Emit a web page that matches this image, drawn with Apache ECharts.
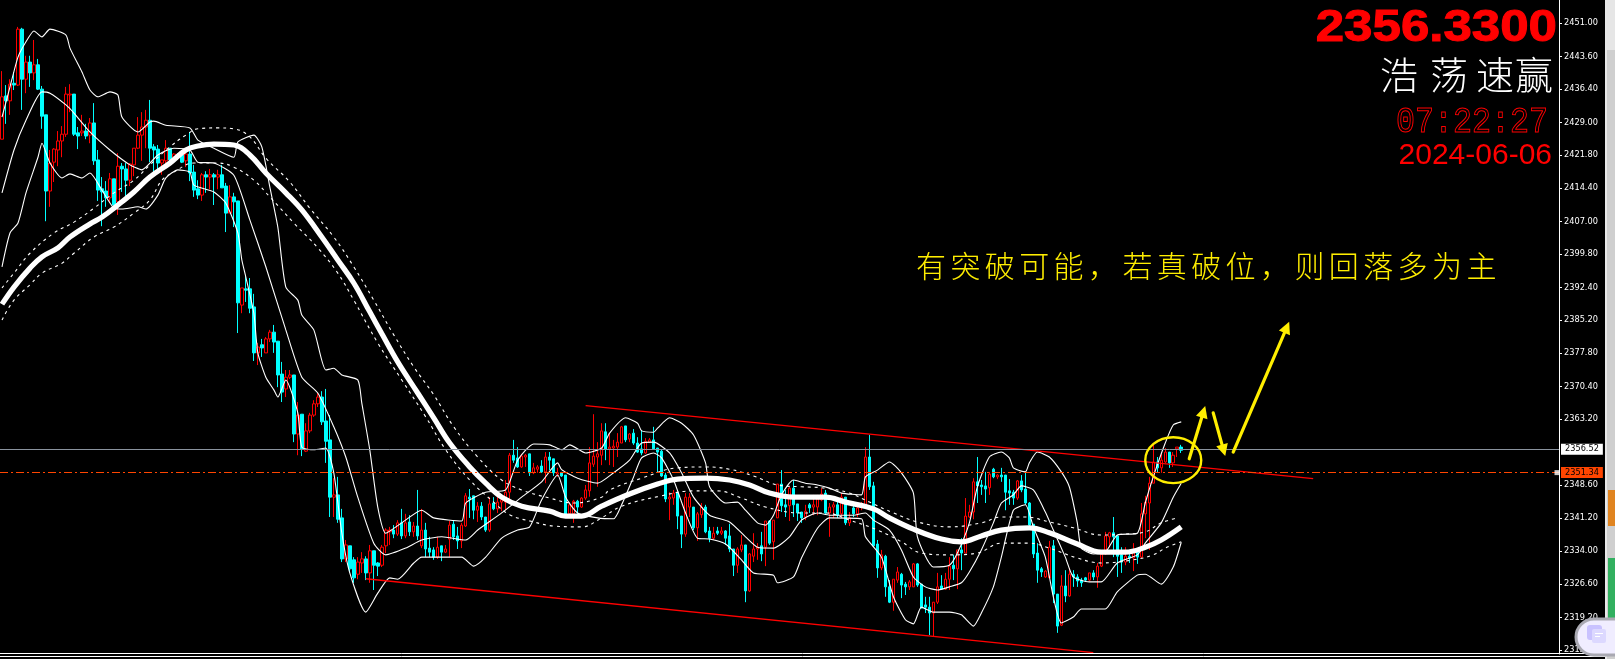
<!DOCTYPE html>
<html>
<head>
<meta charset="utf-8">
<title>2356.3300</title>
<script src="https://cdn.jsdelivr.net/npm/echarts@6/dist/echarts.min.js"></script>
<style>
html,body{margin:0;padding:0;background:#000;overflow:hidden;}
#chart_div{width:1615px;height:659px;}
</style>
</head>
<body>
<div id="chart_div"></div>
<script>
// open, close, low, high
var candles = [
[2425.3,2434.7,2425.3,2440.4],[2434.9,2433.8,2428.7,2437.3],[2433.8,2437.5,2430.7,2438.6],[2437.7,2437.3,2436.2,2440.2],
[2437.3,2449.7,2437.1,2450.2],[2449.7,2438.6,2431.8,2450.0],[2438.6,2442.4,2435.5,2443.8],[2442.4,2440.0,2436.9,2443.8],
[2440.0,2441.8,2438.4,2447.3],[2441.8,2436.4,2436.2,2443.1],[2436.4,2430.4,2427.6,2437.1],[2430.7,2413.8,2407.1,2430.7],
[2413.8,2420.0,2410.3,2422.9],[2420.2,2423.1,2415.8,2423.3],[2422.9,2424.9,2419.3,2427.1],[2424.9,2426.4,2421.3,2428.2],
[2426.4,2435.3,2425.8,2436.9],[2435.1,2435.3,2431.3,2437.5],[2435.3,2426.4,2426.0,2435.3],[2426.7,2426.0,2423.1,2428.0],
[2426.7,2427.1,2426.0,2430.7],[2427.1,2426.0,2425.3,2428.7],[2426.2,2428.9,2424.4,2430.0],[2428.9,2420.5,2419.6,2433.3],
[2420.7,2414.0,2411.6,2422.9],[2414.3,2413.6,2406.0,2416.9],[2413.8,2412.3,2410.3,2416.0],[2412.3,2416.5,2411.4,2417.8],
[2416.5,2410.7,2409.6,2416.5],[2411.4,2419.3,2408.5,2422.2],[2419.3,2418.7,2413.6,2420.0],[2418.7,2416.2,2412.5,2420.0],
[2416.2,2419.8,2414.9,2420.0],[2419.6,2423.3,2417.1,2423.3],[2423.3,2426.2,2423.1,2430.2],[2426.2,2428.0,2420.5,2431.3],
[2428.0,2429.5,2423.3,2431.8],[2429.5,2423.3,2420.2,2434.0],[2423.6,2422.9,2418.0,2424.2],[2423.1,2420.0,2418.0,2424.0],
[2420.0,2420.7,2417.4,2420.7],[2420.5,2423.3,2420.0,2425.1],[2423.3,2420.7,2420.0,2423.3],[2421.3,2422.0,2420.0,2422.2],
[2421.8,2421.6,2420.7,2422.2],[2421.8,2420.2,2420.0,2422.5],[2420.5,2422.0,2419.1,2422.5],[2422.0,2417.8,2416.0,2426.9],
[2418.0,2414.0,2412.5,2419.6],[2414.3,2412.9,2412.0,2416.2],[2412.9,2417.4,2411.6,2417.8],[2417.4,2416.9,2413.4,2418.2],
[2416.9,2417.4,2414.2,2418.7],[2417.4,2416.9,2410.7,2417.8],[2416.9,2417.4,2414.2,2418.5],[2417.4,2414.5,2414.5,2419.6],
[2414.9,2408.9,2404.7,2415.6],[2408.9,2412.5,2408.9,2415.1],[2412.5,2411.4,2405.8,2413.4],[2411.6,2389.0,2382.3,2411.6],
[2388.5,2392.3,2386.7,2392.3],[2392.1,2391.8,2389.2,2395.2],[2392.1,2387.8,2386.7,2394.5],[2388.1,2377.9,2376.1,2391.0],
[2377.9,2379.2,2375.2,2380.1],[2379.7,2379.0,2377.0,2381.0],[2377.9,2381.0,2377.9,2381.4],[2381.0,2382.5,2380.3,2383.0],
[2382.5,2380.3,2377.9,2384.1],[2380.5,2373.0,2370.3,2380.5],[2373.2,2369.2,2367.0,2375.9],[2369.9,2372.5,2368.1,2374.1],
[2372.5,2373.0,2372.1,2374.1],[2373.0,2359.9,2358.1,2373.0],[2359.9,2364.1,2355.2,2367.0],[2364.3,2356.6,2355.0,2364.3],
[2356.1,2360.6,2355.9,2362.3],[2360.6,2364.1,2360.1,2364.6],[2364.1,2366.6,2363.7,2367.4],[2366.6,2368.1,2365.9,2369.0],
[2368.1,2362.6,2361.9,2369.4],[2362.8,2358.3,2353.5,2369.9],[2358.6,2345.9,2341.5,2364.1],[2345.9,2346.4,2341.5,2350.1],
[2346.4,2341.0,2340.2,2350.4],[2341.3,2332.2,2331.5,2343.3],[2332.2,2335.3,2331.5,2336.4],[2335.1,2330.0,2329.3,2335.1],
[2332.0,2328.0,2326.9,2332.6],[2328.8,2331.5,2327.7,2332.6],[2331.3,2332.2,2329.1,2333.7],[2332.2,2329.1,2327.5,2332.8],
[2329.1,2334.0,2326.9,2335.3],[2334.0,2330.8,2325.3,2334.0],[2331.3,2330.6,2328.4,2331.5],[2330.8,2334.8,2330.4,2335.3],
[2335.1,2338.6,2333.5,2339.0],[2338.2,2338.6,2335.3,2339.3],[2338.6,2337.7,2336.8,2339.7],[2337.7,2340.2,2337.3,2340.8],
[2340.2,2337.3,2336.6,2343.3],[2337.3,2340.2,2336.8,2342.2],[2340.4,2338.2,2337.3,2341.9],[2338.2,2339.5,2337.1,2340.4],
[2339.5,2337.3,2336.4,2347.5],[2335.1,2338.6,2334.6,2343.3],[2338.6,2334.4,2332.6,2340.2],[2334.6,2333.7,2332.6,2337.1],
[2334.2,2332.6,2332.0,2334.8],[2332.6,2334.8,2332.2,2337.1],[2335.1,2333.7,2331.7,2335.1],[2333.7,2334.4,2333.5,2335.3],
[2336.6,2339.7,2332.6,2340.6],[2339.9,2337.1,2336.4,2340.6],[2337.3,2336.2,2334.4,2339.3],[2336.2,2339.7,2334.6,2340.2],
[2339.5,2346.2,2339.3,2346.8],[2345.9,2345.5,2341.3,2347.7],[2346.2,2343.0,2341.0,2346.2],[2343.0,2343.9,2340.4,2344.8],
[2343.9,2341.5,2340.8,2344.8],[2341.5,2338.6,2338.2,2341.5],[2338.6,2344.4,2338.2,2345.9],[2344.6,2343.3,2343.0,2345.9],
[2343.3,2344.8,2342.4,2345.9],[2344.8,2345.3,2342.8,2345.7],[2344.8,2347.0,2343.0,2349.7],[2347.0,2355.2,2345.3,2355.7],
[2355.2,2354.1,2353.5,2358.6],[2354.6,2352.6,2352.4,2357.0],[2352.6,2355.0,2352.4,2355.5],[2354.8,2355.2,2352.6,2355.5],
[2355.5,2351.3,2350.6,2355.5],[2351.3,2352.4,2351.0,2353.5],[2352.1,2352.6,2351.3,2353.0],[2352.8,2351.5,2351.3,2354.1],
[2351.5,2354.8,2349.0,2355.9],[2354.8,2354.1,2351.9,2355.9],[2354.4,2351.3,2350.6,2354.4],[2351.0,2351.3,2350.4,2352.4],
[2351.3,2350.6,2350.4,2351.5],[2350.8,2341.9,2341.5,2350.8],[2342.2,2344.2,2341.5,2344.8],[2342.2,2345.0,2340.2,2345.3],
[2345.0,2343.7,2342.2,2345.3],[2343.7,2345.7,2343.5,2345.9],[2345.7,2347.5,2345.3,2348.6],[2347.3,2353.5,2346.0,2357.0],
[2353.2,2355.0,2352.6,2364.3],[2354.8,2355.5,2348.2,2358.1],[2355.2,2360.6,2353.0,2362.3],[2360.4,2356.6,2354.1,2362.3],
[2356.6,2357.0,2353.0,2360.1],[2356.8,2357.2,2352.6,2358.6],[2357.0,2358.1,2354.8,2360.1],[2357.9,2361.5,2357.9,2361.7],
[2361.7,2358.6,2358.1,2361.7],[2358.8,2359.9,2358.1,2360.1],[2360.1,2357.9,2357.5,2361.0],[2357.9,2355.9,2355.7,2359.2],
[2356.6,2355.7,2355.2,2360.8],[2355.7,2358.3,2355.5,2359.0],[2358.1,2358.6,2357.9,2359.0],[2358.6,2356.6,2356.4,2361.5],
[2356.8,2355.9,2351.3,2356.8],[2356.1,2350.6,2350.4,2356.4],[2350.8,2345.5,2344.8,2351.3],[2345.5,2345.9,2340.8,2347.0],
[2345.7,2346.8,2344.2,2347.5],[2346.8,2341.7,2338.8,2346.8],[2341.7,2337.7,2334.6,2341.7],[2337.7,2345.9,2337.1,2346.8],
[2343.7,2345.9,2341.5,2346.8],[2343.7,2339.1,2338.6,2343.7],[2339.1,2342.2,2336.2,2342.6],[2342.0,2343.7,2341.3,2344.6],
[2343.7,2338.2,2337.9,2344.2],[2338.4,2336.8,2335.9,2339.3],[2336.8,2337.9,2336.4,2339.3],[2338.4,2337.9,2337.5,2339.3],
[2337.9,2338.4,2337.5,2339.3],[2338.4,2336.8,2335.3,2338.6],[2337.3,2334.4,2333.7,2340.0],[2334.4,2330.8,2328.4,2334.4],
[2330.8,2334.4,2329.1,2334.8],[2334.2,2335.3,2333.7,2337.5],[2335.3,2325.1,2322.6,2335.3],[2325.1,2333.3,2324.9,2333.5],
[2332.8,2334.4,2331.5,2337.9],[2334.4,2334.8,2332.0,2335.7],[2335.1,2333.3,2331.7,2338.2],[2334.8,2340.6,2330.6,2340.6],
[2340.6,2335.7,2335.3,2340.8],[2336.0,2340.8,2332.0,2340.8],[2341.3,2348.8,2341.3,2348.8],[2348.8,2344.0,2342.6,2351.9],
[2344.2,2343.7,2341.5,2347.5],[2344.0,2347.9,2340.6,2348.2],[2347.9,2344.2,2341.5,2349.7],[2344.4,2342.4,2340.6,2344.4],
[2342.6,2341.3,2340.2,2342.6],[2341.5,2342.8,2340.8,2344.2],[2344.2,2343.5,2342.4,2344.6],[2343.7,2344.2,2341.9,2346.4],
[2343.7,2345.5,2341.9,2346.4],[2345.3,2346.6,2345.0,2347.9],[2346.8,2342.4,2342.2,2347.5],[2342.4,2343.7,2337.1,2344.6],
[2343.7,2344.2,2341.3,2344.8],[2344.2,2341.9,2341.3,2345.3],[2342.2,2345.9,2341.3,2346.8],[2345.9,2340.2,2339.7,2345.9],
[2340.2,2341.3,2339.5,2342.6],[2343.5,2342.2,2341.5,2344.6],[2342.2,2343.5,2341.5,2344.6],[2343.7,2344.2,2343.0,2344.8],
[2343.7,2354.8,2343.5,2357.0],[2354.8,2348.2,2347.5,2359.7],[2348.4,2335.1,2334.8,2349.3],[2335.5,2330.2,2328.0,2336.4],
[2330.2,2333.1,2329.7,2334.2],[2332.8,2326.0,2323.8,2333.1],[2326.0,2322.6,2322.4,2327.5],[2322.6,2327.7,2320.7,2327.7],
[2327.5,2329.3,2326.9,2330.4],[2328.8,2326.4,2323.5,2329.1],[2326.6,2326.0,2324.2,2327.1],[2326.0,2327.1,2325.3,2327.5],
[2326.0,2331.1,2326.0,2331.3],[2331.1,2326.4,2326.0,2331.3],[2326.6,2321.3,2321.3,2326.6],[2322.0,2321.5,2320.2,2323.8],
[2321.5,2320.2,2315.3,2323.8],[2320.2,2322.6,2314.9,2322.6],[2322.6,2326.0,2322.2,2329.1],[2326.2,2325.5,2325.3,2328.6],
[2325.5,2327.7,2325.3,2329.1],[2327.7,2330.6,2325.3,2332.6],[2330.8,2330.0,2327.5,2333.1],[2330.0,2334.2,2325.5,2334.2],
[2334.2,2333.5,2329.7,2336.8],[2333.5,2341.7,2333.5,2345.7],[2341.5,2342.6,2341.3,2344.2],[2342.6,2349.3,2341.0,2350.1],
[2349.3,2348.4,2344.6,2354.8],[2348.6,2348.2,2346.4,2349.7],[2348.4,2347.7,2344.6,2351.5],[2348.0,2351.0,2346.4,2351.5],
[2352.1,2350.4,2350.1,2352.4],[2350.4,2350.8,2349.9,2351.0],[2350.8,2350.4,2349.3,2352.4],[2350.8,2347.0,2343.0,2350.8],
[2347.3,2346.8,2344.2,2349.9],[2347.0,2345.7,2344.2,2347.5],[2345.7,2349.5,2345.3,2349.7],[2349.5,2347.5,2347.0,2350.8],
[2347.7,2344.6,2344.2,2351.3],[2344.6,2339.7,2339.5,2344.8],[2339.9,2333.3,2332.4,2339.9],[2333.5,2329.7,2326.9,2335.7],
[2330.0,2329.3,2328.2,2330.4],[2328.2,2329.5,2328.0,2329.7],[2328.0,2334.8,2328.0,2336.2],[2335.1,2324.4,2322.4,2336.4],
[2324.4,2317.3,2315.8,2324.4],[2317.5,2326.2,2317.3,2328.6],[2326.2,2324.0,2322.6,2329.7],[2324.0,2328.8,2323.8,2330.2],
[2328.8,2328.2,2326.0,2329.7],[2328.2,2327.3,2326.0,2328.8],[2327.5,2326.9,2326.0,2328.0],[2328.0,2327.5,2327.1,2328.2],
[2327.5,2329.1,2327.3,2329.1],[2329.1,2328.2,2327.5,2329.7],[2328.2,2330.6,2325.8,2331.3],[2330.6,2333.3,2330.4,2333.5],
[2333.3,2337.3,2333.1,2338.2],[2337.1,2338.0,2334.8,2338.2],[2338.0,2337.1,2332.6,2341.5],[2337.3,2332.8,2328.2,2337.5],
[2333.1,2331.5,2329.1,2334.8],[2331.5,2332.8,2330.8,2334.8],[2332.8,2332.4,2331.3,2334.2],[2332.4,2333.7,2329.5,2335.7],
[2333.7,2332.6,2331.1,2334.2],[2332.6,2342.2,2332.4,2344.6],[2342.2,2344.8,2336.8,2346.2],[2344.6,2349.0,2334.2,2350.4],
[2349.0,2353.7,2349.0,2357.5],[2353.7,2352.4,2351.3,2354.8],[2352.4,2354.1,2351.3,2355.9],[2353.7,2355.9,2353.5,2356.8],
[2355.9,2353.5,2352.4,2355.9],[2353.5,2355.2,2352.6,2355.9],[2356.6,2357.0,2354.8,2357.0],[2357.0,2356.3,2355.7,2357.5]
];

// [candle index, price]
var slowMa = [[0,2388.7],[3,2392.5],[7,2396.7],[10,2399.2],[14,2401.2],[17,2403.6],[22,2406.5],[25,2408.0],[29,2410.7],[33,2413.6],[37,2416.9],[42,2420.0],[46,2422.9],[49,2423.8],[53,2424.2],[58,2424.0],[62,2421.8],[66,2417.8],[71,2413.4],[75,2409.6],[80,2403.6],[84,2398.5],[88,2393.4],[92,2387.0],[95,2382.2],[99,2375.9],[104,2369.0],[108,2363.5],[112,2357.9],[117,2352.6],[121,2349.0],[125,2345.9],[130,2343.9],[137,2342.8],[141,2341.7],[145,2341.7],[150,2343.9],[157,2346.6],[164,2348.8],[169,2349.9],[176,2350.1],[182,2349.7],[187,2348.6],[192,2346.8],[198,2345.9],[206,2345.9],[211,2344.8],[218,2343.3],[222,2341.3],[228,2338.8],[235,2336.6],[240,2336.0],[245,2337.3],[250,2338.6],[257,2339.1],[262,2338.0],[269,2335.5],[275,2333.7],[281,2333.7],[286,2334.8],[290,2336.4],[295,2339.3]];
var slowUpper = [[0,2392.3],[3,2395.6],[7,2400.0],[13,2404.5],[18,2406.9],[23,2410.0],[28,2413.4],[33,2416.2],[37,2419.6],[42,2423.6],[46,2426.2],[49,2427.6],[54,2427.8],[58,2427.6],[62,2425.8],[66,2421.1],[72,2415.8],[77,2410.0],[83,2403.6],[88,2397.0],[93,2389.6],[98,2381.9],[103,2374.8],[108,2368.6],[113,2361.5],[119,2354.8],[125,2349.7],[130,2347.5],[137,2345.7],[143,2344.6],[150,2345.9],[152,2347.5],[160,2350.1],[169,2352.4],[176,2352.6],[182,2352.1],[188,2350.6],[194,2348.6],[200,2348.2],[206,2347.9],[212,2346.8],[217,2344.8],[223,2342.4],[229,2340.4],[237,2339.3],[245,2340.2],[250,2341.5],[256,2341.5],[262,2340.4],[268,2339.1],[275,2337.5],[281,2337.7],[286,2338.2],[290,2340.2],[294,2341.3]];
var slowLower = [[0,2385.2],[3,2389.6],[7,2393.0],[10,2395.6],[15,2397.8],[18,2400.0],[23,2403.6],[28,2405.8],[33,2408.9],[37,2411.8],[40,2416.2],[43,2418.0],[48,2420.0],[54,2420.0],[58,2419.1],[63,2416.2],[67,2412.5],[73,2406.7],[79,2401.2],[84,2395.6],[88,2389.6],[94,2380.1],[100,2371.9],[106,2363.7],[111,2356.4],[117,2349.7],[123,2344.8],[127,2342.0],[133,2340.4],[138,2339.5],[145,2339.3],[150,2341.3],[155,2343.9],[165,2346.2],[173,2347.3],[179,2347.3],[185,2345.7],[191,2343.7],[200,2342.4],[206,2342.4],[212,2340.8],[219,2338.6],[225,2336.0],[230,2333.5],[237,2333.1],[244,2333.5],[250,2335.7],[257,2335.7],[262,2334.6],[269,2332.4],[275,2331.3],[283,2332.0],[288,2333.1],[291,2334.6],[295,2336.0]];

var bandUpper = [[0,2430.2],[2,2436.9],[4,2443.5],[6,2446.9],[8,2449.3],[10,2448.0],[12,2449.7],[16,2448.4],[17,2445.5],[20,2440.2],[22,2436.2],[24,2434.7],[27,2435.8],[29,2435.1],[30,2430.2],[34,2426.9],[37,2429.1],[38,2429.3],[41,2428.4],[47,2427.8],[49,2425.1],[53,2423.3],[58,2421.3],[59,2424.7],[63,2426.2],[65,2423.6],[67,2414.7],[69,2405.8],[71,2392.5],[74,2389.6],[75,2386.3],[78,2383.0],[81,2374.1],[83,2374.5],[85,2373.0],[89,2371.9],[90,2366.8],[92,2356.4],[94,2343.7],[96,2337.9],[100,2340.2],[105,2343.0],[108,2341.3],[115,2340.6],[116,2344.6],[121,2347.0],[126,2347.5],[129,2354.1],[133,2357.7],[137,2357.5],[140,2356.4],[142,2357.5],[146,2355.7],[150,2356.8],[152,2360.1],[156,2363.5],[159,2362.3],[160,2360.6],[163,2360.3],[164,2361.2],[167,2363.5],[170,2362.3],[173,2359.7],[176,2353.5],[177,2348.2],[181,2344.6],[184,2344.8],[186,2343.0],[189,2340.2],[191,2339.7],[193,2341.9],[195,2346.4],[198,2349.7],[201,2349.0],[204,2348.6],[207,2347.9],[210,2346.8],[215,2346.4],[216,2350.4],[219,2351.9],[222,2353.7],[225,2351.3],[228,2346.8],[229,2337.1],[233,2330.4],[237,2330.8],[239,2333.5],[242,2340.2],[244,2348.2],[247,2354.8],[250,2355.9],[252,2354.6],[253,2352.4],[256,2351.5],[257,2353.5],[259,2355.9],[262,2354.8],[265,2351.5],[267,2348.2],[269,2340.2],[270,2334.6],[273,2333.3],[276,2333.7],[279,2337.5],[284,2337.9],[286,2344.6],[288,2350.4],[291,2357.9],[293,2361.9],[295,2362.6]];
var bandMiddle = [[0,2413.4],[3,2422.9],[6,2429.5],[10,2435.8],[12,2435.5],[16,2432.9],[18,2431.1],[22,2426.9],[27,2422.9],[32,2419.6],[35,2418.5],[39,2421.8],[43,2423.3],[47,2422.9],[49,2420.2],[53,2420.0],[58,2417.3],[62,2407.4],[66,2397.0],[71,2383.0],[75,2372.5],[79,2369.0],[83,2361.5],[86,2354.8],[89,2345.9],[93,2335.7],[96,2333.1],[101,2334.6],[105,2336.4],[110,2337.1],[116,2336.4],[119,2338.6],[125,2342.4],[130,2345.9],[135,2349.3],[139,2353.5],[140,2352.0],[144,2350.1],[149,2349.0],[153,2351.3],[157,2354.1],[160,2357.9],[163,2358.1],[167,2355.7],[170,2351.3],[173,2345.9],[177,2341.9],[182,2340.4],[186,2337.1],[189,2334.8],[193,2334.6],[197,2337.1],[200,2340.8],[204,2342.4],[207,2341.9],[213,2341.9],[216,2342.4],[218,2340.8],[222,2338.6],[225,2334.2],[228,2328.2],[231,2326.0],[234,2325.3],[237,2326.0],[240,2326.9],[242,2329.3],[245,2334.2],[248,2340.2],[250,2344.6],[253,2346.4],[255,2348.4],[258,2347.5],[261,2342.6],[263,2338.6],[266,2332.6],[268,2328.2],[272,2327.1],[275,2327.1],[279,2331.3],[284,2333.1],[286,2335.7],[290,2340.2],[293,2345.9],[295,2349.0]];
var bandLower = [[0,2397.0],[2,2404.5],[4,2406.7],[6,2413.4],[9,2421.3],[10,2424.4],[12,2420.0],[15,2416.7],[17,2417.6],[20,2416.7],[22,2417.8],[25,2414.0],[28,2410.0],[30,2409.8],[34,2410.3],[36,2409.8],[39,2412.9],[41,2416.7],[44,2418.5],[47,2418.0],[48,2415.1],[53,2413.6],[56,2411.1],[59,2404.5],[60,2398.5],[61,2394.7],[63,2386.7],[64,2377.9],[66,2372.5],[68,2369.7],[69,2368.1],[71,2371.9],[74,2364.6],[75,2357.0],[78,2356.4],[81,2356.8],[83,2351.3],[85,2338.0],[87,2329.1],[91,2320.4],[94,2324.6],[97,2328.0],[99,2327.7],[103,2331.3],[105,2332.6],[112,2332.6],[115,2332.6],[118,2330.6],[121,2332.6],[125,2336.8],[129,2338.6],[132,2339.3],[135,2345.3],[139,2350.8],[141,2345.9],[144,2342.4],[149,2341.3],[153,2341.1],[155,2344.2],[158,2350.4],[160,2354.6],[163,2355.7],[165,2354.6],[168,2349.7],[171,2342.4],[174,2336.8],[177,2336.6],[181,2335.5],[185,2332.0],[188,2329.1],[193,2328.6],[194,2326.9],[198,2328.2],[200,2332.4],[204,2339.0],[207,2341.3],[215,2341.1],[216,2337.1],[220,2332.6],[223,2323.8],[226,2318.7],[228,2317.8],[230,2321.5],[233,2320.4],[237,2320.4],[240,2319.8],[243,2317.3],[245,2320.2],[248,2326.0],[250,2332.6],[253,2343.0],[256,2344.2],[258,2339.3],[261,2332.6],[263,2323.8],[265,2318.0],[268,2319.3],[270,2321.1],[276,2321.1],[279,2324.9],[284,2328.6],[286,2328.8],[290,2326.6],[293,2330.4],[295,2335.9]];

var channelTop = [[146,2366.2],[328,2350.0]];
var channelBottom = [[91,2327.8],[273,2311.4]];

// tail index, tail price, tip index, tip price
var arrows = [[296.75,2354.4,300.5,2366.1],[302.5,2364.6,305.5,2355.0],[307.75,2355.9,322,2384.8]];
var circleIdx = [285.5,299.5];
var circlePrice = [2349.0,2359.2];

var priceTicks = [2451,2443.6,2436.4,2429,2421.8,2414.4,2407,2399.8,2392.4,2385.2,2377.8,2370.4,2363.2,2348.6,2341.2,2334,2326.6,2319.2,2312];
var bidPrice = 2356.52;
var linePrice = 2351.34;
var noteText = '有突破可能，若真破位，则回落多为主';
var lastPrice = '2356.3300';
var brandChars = ['浩','荡','速','赢'];
var clockText = '07:22:27';
var dateText = '2024-06-06';

var categories = [];
for (var n = 0; n < 390; n++) {
	categories.push(n);
}

function thinLine(data, width, dash, smooth) {
	return {
		type: 'line',
		data: data,
		symbol: 'none',
		smooth: smooth,
		silent: true,
		z: 3,
		lineStyle: {color: '#fff', width: width, type: dash}
	};
}

function channelLine(data) {
	return {
		type: 'line',
		data: data,
		symbol: 'none',
		silent: true,
		z: 4,
		lineStyle: {color: '#f00', width: 1.3}
	};
}

function renderNotes(params, api) {
	var yellow = '#ffee00';
	var children = [];
	var p0 = api.coord([circleIdx[0], circlePrice[1]]);
	var p1 = api.coord([circleIdx[1], circlePrice[0]]);
	children.push({
		type: 'ellipse',
		shape: {cx: (p0[0] + p1[0]) / 2, cy: (p0[1] + p1[1]) / 2, rx: (p1[0] - p0[0]) / 2, ry: (p1[1] - p0[1]) / 2},
		style: {fill: 'none', stroke: yellow, lineWidth: 2.4}
	});
	for (var i = 0; i < arrows.length; i++) {
		var a = api.coord([arrows[i][0], arrows[i][1]]);
		var b = api.coord([arrows[i][2], arrows[i][3]]);
		var len = Math.sqrt((b[0] - a[0]) * (b[0] - a[0]) + (b[1] - a[1]) * (b[1] - a[1]));
		var ux = (b[0] - a[0]) / len;
		var uy = (b[1] - a[1]) / len;
		var bx = b[0] - ux * 12;
		var by = b[1] - uy * 12;
		children.push({
			type: 'line',
			shape: {x1: a[0], y1: a[1], x2: bx, y2: by},
			style: {stroke: yellow, lineWidth: 3.2, lineCap: 'round'}
		});
		children.push({
			type: 'polygon',
			shape: {points: [b, [bx - uy * 6, by + ux * 6], [bx + uy * 6, by - ux * 6]]},
			style: {fill: yellow}
		});
	}
	return {type: 'group', children: children};
}

function noteGraphics() {
	var items = [];
	for (var i = 0; i < noteText.length; i++) {
		items.push({
			type: 'text',
			x: 931 + i * 34.4,
			y: 266,
			style: {text: noteText.charAt(i), fill: '#ffee00', font: '300 30px "Noto Sans CJK SC"', textAlign: 'center', textVerticalAlign: 'middle', shadowBlur: 4, shadowColor: '#a89a00'},
			z: 20
		});
	}
	return items;
}

var chart = echarts.init(document.getElementById('chart_div'));

var option = {
	backgroundColor: '#000',
	animation: false,
	grid: {left: -1, top: 0, width: 1560, height: 654},
	xAxis: {
		type: 'category',
		data: categories,
		boundaryGap: true,
		axisLine: {show: false},
		axisTick: {show: false},
		axisLabel: {show: false},
		splitLine: {show: false}
	},
	yAxis: {
		type: 'value',
		position: 'right',
		min: 2311.11,
		max: 2456.17,
		scale: true,
		splitLine: {show: false},
		axisLine: {show: true, lineStyle: {color: '#fff', width: 1}},
		axisTick: {show: true, length: 3, lineStyle: {color: '#fff'}, customValues: priceTicks},
		axisLabel: {
			customValues: priceTicks,
			margin: 5,
			color: '#fff',
			fontFamily: 'DejaVu Sans',
			fontSize: 8.2,
			formatter: function (v) {
				return v.toFixed(2);
			}
		}
	},
	series: [
		{
			type: 'candlestick',
			data: candles,
			barWidth: 3,
			progressive: 0,
			silent: true,
			z: 2,
			itemStyle: {color: '#000', borderColor: '#f00', color0: '#0ff', borderColor0: '#0ff', borderWidth: 1},
			markLine: {
				silent: true,
				symbol: 'none',
				animation: false,
				data: [
					{
						yAxis: bidPrice,
						lineStyle: {color: '#8a939e', width: 1, type: 'solid'},
						label: {position: 'end', distance: 2, formatter: bidPrice.toFixed(2), color: '#000', backgroundColor: '#fff', padding: [2, 4, 1, 4], fontSize: 8.2, fontFamily: 'DejaVu Sans'}
					},
					{
						yAxis: linePrice,
						lineStyle: {color: '#ff4500', width: 1, type: [8, 3, 2, 3]},
						label: {position: 'end', distance: 2, formatter: linePrice.toFixed(2), color: '#000', backgroundColor: '#ff4500', padding: [2, 4, 1, 4], fontSize: 8.2, fontFamily: 'DejaVu Sans'}
					}
				]
			}
		},
		thinLine(bandUpper, 1.1, 'solid', 0.2),
		thinLine(bandMiddle, 1.1, 'solid', 0.2),
		thinLine(bandLower, 1.1, 'solid', 0.2),
		thinLine(slowUpper, 1.1, [3, 4], 0.4),
		thinLine(slowLower, 1.1, [3, 4], 0.4),
		thinLine(slowMa, 5.2, 'solid', 0.4),
		channelLine(channelTop),
		channelLine(channelBottom),
		{
			type: 'scatter',
			data: [[389, linePrice]],
			symbol: 'rect',
			symbolSize: 5,
			silent: true,
			z: 5,
			itemStyle: {color: '#fff'}
		},
		{
			type: 'custom',
			data: [[0, linePrice]],
			renderItem: renderNotes,
			silent: true,
			clip: false,
			z: 6
		}
	],
	graphic: [
		// chart frame and window edge
		{type: 'line', shape: {x1: 0, y1: 653.5, x2: 1605, y2: 653.5}, style: {stroke: '#fff', lineWidth: 1}, z: 20},
		{type: 'line', shape: {x1: 0, y1: 656.5, x2: 1605, y2: 656.5}, style: {stroke: '#fff', lineWidth: 1}, z: 20},
		{type: 'rect', shape: {x: 1605, y: 0, width: 2, height: 659}, style: {fill: '#e8e8e8'}, z: 20},
		{type: 'rect', shape: {x: 1607, y: 0, width: 8, height: 659}, style: {fill: '#cfcfcf'}, z: 20},
		{type: 'rect', shape: {x: 1607, y: 0, width: 8, height: 50}, style: {fill: '#e6e6e6'}, z: 20},
		{type: 'rect', shape: {x: 1608, y: 490, width: 7, height: 36}, style: {fill: '#e08420'}, z: 21},
		{type: 'rect', shape: {x: 1608, y: 558, width: 7, height: 60}, style: {fill: '#32b060'}, z: 21},
		// floating chat button
		{type: 'rect', shape: {x: 1576, y: 619, width: 60, height: 36, r: 18}, style: {fill: '#f0edff', stroke: '#a9a9b2', lineWidth: 3}, z: 22},
		{type: 'rect', shape: {x: 1587, y: 625, width: 15, height: 15, r: 3}, style: {fill: '#c9c2ff'}, z: 23},
		{type: 'rect', shape: {x: 1592, y: 629, width: 14, height: 14, r: 2}, style: {fill: '#dcd8ff'}, z: 24},
		{type: 'rect', shape: {x: 1595, y: 633, width: 8, height: 1}, style: {fill: '#fff'}, z: 25},
		{type: 'rect', shape: {x: 1595, y: 636, width: 5, height: 1}, style: {fill: '#fff'}, z: 25},
		// texts
		{type: 'text', x: 1557, y: 29, scaleX: 1.16, originX: 0, originY: 0, style: {text: lastPrice, fill: '#f00', stroke: '#f00', lineWidth: 1, font: 'bold 44px "Liberation Sans"', textAlign: 'right', textVerticalAlign: 'middle'}, z: 20},
		{type: 'text', x: 1399, y: 75, style: {text: brandChars[0], fill: '#fff', font: '300 38px "Noto Sans CJK SC"', textAlign: 'center', textVerticalAlign: 'middle'}, z: 20},
		{type: 'text', x: 1449, y: 75, style: {text: brandChars[1], fill: '#fff', font: '300 38px "Noto Sans CJK SC"', textAlign: 'center', textVerticalAlign: 'middle'}, z: 20},
		{type: 'text', x: 1495, y: 75, style: {text: brandChars[2], fill: '#fff', font: '300 38px "Noto Sans CJK SC"', textAlign: 'center', textVerticalAlign: 'middle'}, z: 20},
		{type: 'text', x: 1534, y: 75, style: {text: brandChars[3], fill: '#fff', font: '300 38px "Noto Sans CJK SC"', textAlign: 'center', textVerticalAlign: 'middle'}, z: 20},
		{type: 'text', x: 1396, y: 122, scaleX: 0.88, originX: 0, originY: 0, style: {text: clockText, fill: 'rgba(0,0,0,0)', stroke: '#f00', lineWidth: 1, font: '36px "Liberation Mono"', textAlign: 'left', textVerticalAlign: 'middle'}, z: 20},
		{type: 'text', x: 1552, y: 156, style: {text: dateText, fill: '#f00', font: '30px "Liberation Sans"', textAlign: 'right', textVerticalAlign: 'middle'}, z: 20}
	].concat(noteGraphics())
};

chart.setOption(option);
</script>
</body>
</html>
